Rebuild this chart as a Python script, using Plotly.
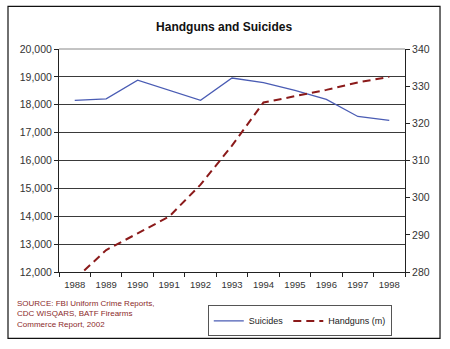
import plotly.graph_objects as go

# Annual figures, 1988-1998
years = ["1988", "1989", "1990", "1991", "1992", "1993", "1994", "1995", "1996", "1997", "1998"]
suicides = [18160, 18210, 18880, 18520, 18160, 18960, 18790, 18520, 18190, 17580, 17440]
handguns_m = [278, 285.9, 290.4, 294.9, 303.5, 314, 325.6, 327.3, 329, 331, 332.5]

left_ticks = [12000, 13000, 14000, 15000, 16000, 17000, 18000, 19000, 20000]
right_ticks = [280, 290, 300, 310, 320, 330, 340]

FONT = "Arial, Liberation Sans, sans-serif"
BLUE = "#4a5cb4"
MAROON = "#8b1a1a"
SRC = "#8b2a2a"

fig = go.Figure()
fig.add_trace(go.Scatter(
    x=years, y=suicides, name="Suicides", mode="lines",
    line=dict(color=BLUE, width=1.3), yaxis="y",
))
fig.add_trace(go.Scatter(
    x=years, y=handguns_m, name="Handguns (m)", mode="lines",
    line=dict(color=MAROON, width=2, dash="8px,5px"), yaxis="y2",
))

fig.update_layout(
    width=450, height=349,
    margin=dict(l=59, r=45, t=49, b=75),
    paper_bgcolor="white", plot_bgcolor="white",
    font=dict(family=FONT, color="#222"),
    title=dict(text="<b>Handguns and Suicides</b>", x=0.498, xanchor="center",
               y=0.922, yanchor="middle", font=dict(size=12, color="#111")),
    xaxis=dict(
        type="category", range=[-0.5, 10.5], tickson="boundaries",
        ticks="outside", ticklen=4, ticklabelstandoff=4,
        tickcolor="#222", showline=True, linecolor="#222", linewidth=1,
        showgrid=False, tickfont=dict(size=9.5, color="#333"),
    ),
    yaxis=dict(
        range=[12000, 20000], tickvals=left_ticks, tickformat=",d",
        ticks="outside", ticklen=4, tickcolor="#222",
        showline=True, linecolor="#222", linewidth=1,
        showgrid=True, gridcolor="#3a3a3a", gridwidth=1, zeroline=False,
        tickfont=dict(size=10.5, color="#333"),
    ),
    yaxis2=dict(
        range=[280, 340], tickvals=right_ticks, overlaying="y", side="right",
        ticks="outside", ticklen=4, tickcolor="#222",
        showline=True, linecolor="#222", linewidth=1,
        showgrid=False, zeroline=False,
        tickfont=dict(size=10.5, color="#333"),
    ),
    yaxis3=dict(
        range=[280, 340], tickvals=right_ticks, overlaying="y", side="right",
        anchor="x", ticks="inside", ticklen=4, tickcolor="#222",
        showticklabels=False, showline=False, showgrid=False, zeroline=False,
    ),
    legend=dict(
        orientation="h", x=0.43, xanchor="left", y=-0.15, yanchor="top",
        bordercolor="#555", borderwidth=1, bgcolor="white",
        font=dict(size=9, color="#222"), itemwidth=30,
        tracegroupgap=0,
    ),
    showlegend=True,
)

# plot-area top border and outer frame
fig.add_shape(type="line", xref="paper", yref="paper", x0=0, x1=1, y0=1, y1=1,
              line=dict(color="#888", width=1))
fig.add_shape(type="rect", xref="paper", yref="paper",
              x0=-0.1474, x1=1.1012, y0=-0.2978, y1=1.191,
              line=dict(color="#111", width=1.2), fillcolor="rgba(0,0,0,0)")

fig.add_annotation(
    text="SOURCE: FBI Uniform Crime Reports,<br>CDC WISQARS, BATF Firearms<br>Commerce Report, 2002",
    xref="paper", yref="paper", x=-0.128, y=-0.11, xanchor="left", yanchor="top",
    align="left", showarrow=False, font=dict(size=8, color=SRC),
)

fig.write_html("out.html")
